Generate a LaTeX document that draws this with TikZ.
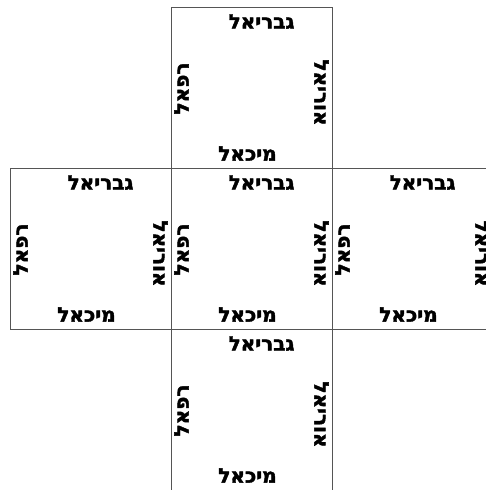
\documentclass[tikz,border=0pt]{standalone}
\usepackage{fontspec}
\newfontfamily\hebfont[Script=Hebrew, BoldFeatures={FakeBold=2}]{DejaVu Sans}
\TeXXeTstate=1
\usepackage{tikz}
\usetikzlibrary{positioning, calc}
\definecolor{edgegray}{HTML}{555555}
\tikzset{
	squarenode/.style={
			draw=edgegray,
			line width=1pt,
			minimum size=161pt,
			inner sep=0pt,
			outer sep=0pt
		},
	namenode/.style={
			inner sep=0pt,
			font=\hebfont\bfseries\fontsize{20}{20}\selectfont
		}
}

\begin{document}
\begin{tikzpicture}[x=1pt, y=-1pt]
\useasboundingbox (0,0) rectangle (486,490);
\clip (0,0) rectangle (486,490);
\node[squarenode] (s1) at (251.5,87.5)  {};
\node[squarenode] (s2) at (90.5,248.5)  {};
\node[squarenode] (s3) at (251.5,248.5) {};
\node[squarenode] (s4) at (412.5,248.5) {};
\node[squarenode] (s5) at (251.5,409.5) {};

% the four names on every square
\foreach \i in {1,...,5}{
	\node[namenode] (g\i) at ($(s\i)+(10,-66)$) {\beginR גבריאל\endR};
	\node[namenode] (m\i) at ($(s\i)+(-4,66)$) {\beginR מיכאל\endR};
	\node[namenode, rotate=90] (r\i) at ($(s\i)+(-70,1)$) {\beginR רפאל\endR};
	\node[namenode, rotate=-90] (u\i) at ($(s\i)+(70,5)$) {\beginR אוריאל\endR};
}
\end{tikzpicture}
\end{document}
